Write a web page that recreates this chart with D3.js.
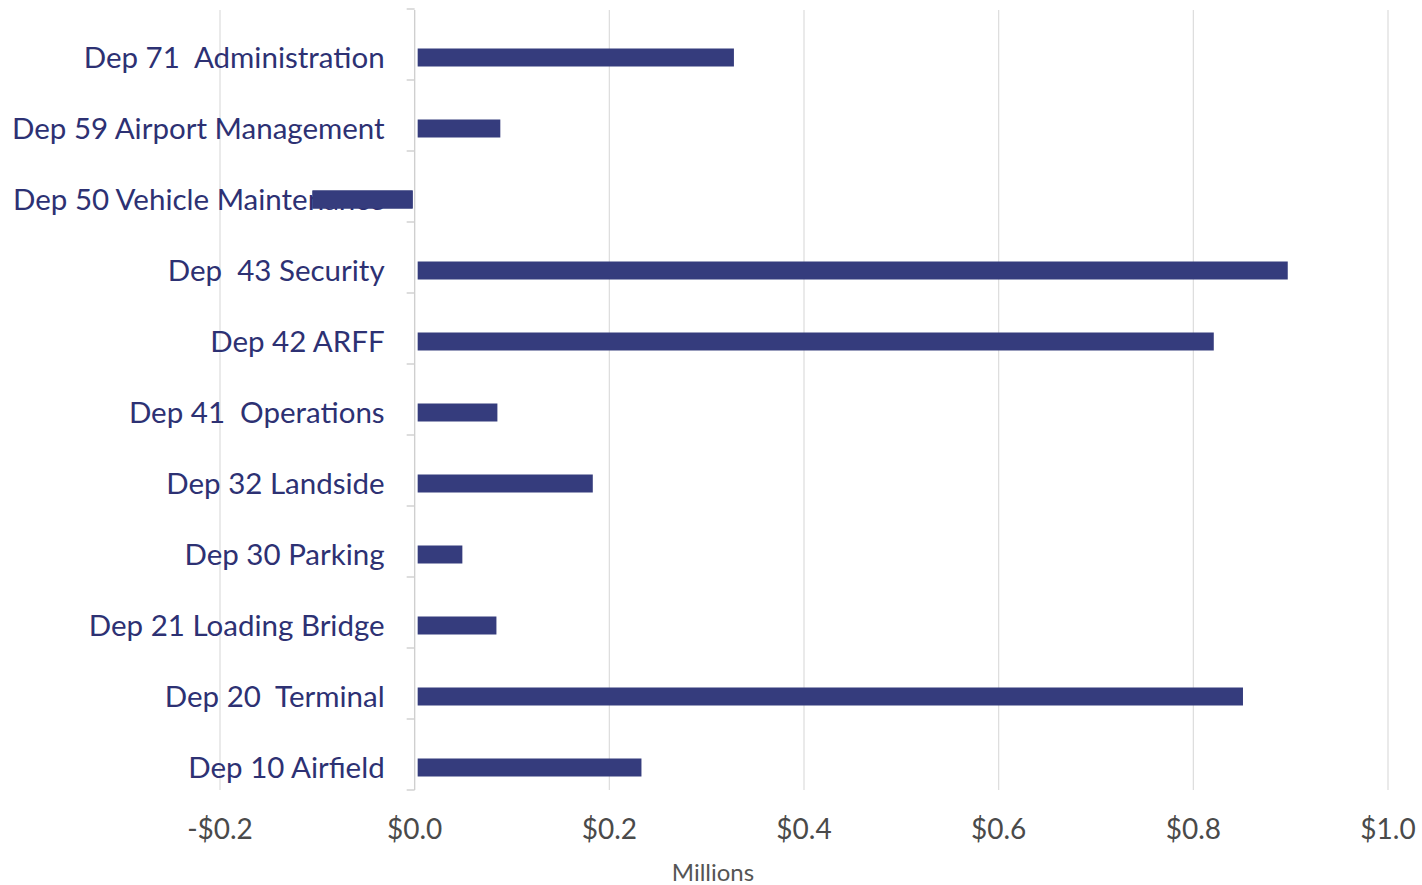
<!DOCTYPE html>
<html>
<head>
<meta charset="utf-8">
<script src="https://cdn.jsdelivr.net/npm/d3@7"></script>
<style>
  html, body { margin: 0; padding: 0; background: #ffffff; }
  svg { display: block; }
  text { white-space: pre; }
</style>
</head>
<body>
<svg id="chart" width="1422" height="885"></svg>
<script>
// Departments, top to bottom
const departments = [
  "Dep 71  Administration",
  "Dep 59 Airport Management",
  "Dep 50 Vehicle Maintenance",
  "Dep  43 Security",
  "Dep 42 ARFF",
  "Dep 41  Operations",
  "Dep 32 Landside",
  "Dep 30 Parking",
  "Dep 21 Loading Bridge",
  "Dep 20  Terminal",
  "Dep 10 Airfield"
];

// Amount per department, in millions of dollars
const amounts = [0.328, 0.088, -0.105, 0.897, 0.821, 0.085, 0.183, 0.049, 0.084, 0.851, 0.233];

// Axis ticks, in millions
const tickValues = [-0.2, 0, 0.2, 0.4, 0.6, 0.8, 1.0];

const svg = d3.select("#chart");

const x = d3.scaleLinear().domain([-0.2, 1.0]).range([220, 1388]);
const y = d3.scaleBand().domain(departments).range([9, 790]);

const barColor = "#353c7d";
const labelColor = "#2d3173";
const fontFamily = "Lato, 'Open Sans', sans-serif";
const barH = 18;
const rowShift = 13;

const rows = departments.map((d, i) => ({ name: d, value: amounts[i] }));

// vertical gridlines
svg.append("g")
  .selectAll("line")
  .data(tickValues.filter(v => v !== 0))
  .join("line")
  .attr("x1", d => x(d)).attr("x2", d => x(d))
  .attr("y1", 10).attr("y2", 790)
  .attr("stroke", "#dcdcdc")
  .attr("stroke-width", 1.2);

// bars
svg.append("g")
  .selectAll("rect")
  .data(rows)
  .join("rect")
  .attr("x", d => d.value >= 0 ? x(0) + 3 : x(d.value))
  .attr("width", d => d.value >= 0 ? x(d.value) - x(0) - 3 : x(0) - x(d.value) - 2)
  .attr("y", d => y(d.name) + y.bandwidth() / 2 + rowShift - barH / 2)
  .attr("height", barH)
  .attr("fill", barColor);

// zero axis with category ticks
const axisG = svg.append("g");
axisG.append("line")
  .attr("x1", x(0)).attr("x2", x(0))
  .attr("y1", 10).attr("y2", 790)
  .attr("stroke", "#cfcfcf")
  .attr("stroke-width", 1.4);
const bounds = departments.map(d => y(d)).concat([y.range()[1]]);
axisG.selectAll("line.tick")
  .data(bounds)
  .join("line")
  .attr("class", "tick")
  .attr("x1", x(0) - 8).attr("x2", x(0))
  .attr("y1", d => d).attr("y2", d => d)
  .attr("stroke", "#cfcfcf")
  .attr("stroke-width", 1.4);

// category labels
svg.append("g")
  .selectAll("text")
  .data(departments)
  .join("text")
  .attr("x", x(0) - 30)
  .attr("y", d => y(d) + y.bandwidth() / 2 + rowShift)
  .attr("dy", "0.35em")
  .attr("text-anchor", "end")
  .attr("font-family", fontFamily)
  .attr("font-size", 29.5)
  .attr("fill", labelColor)
  .text(d => d);

// the negative bar sits over its label
svg.append("g")
  .selectAll("rect")
  .data(rows.filter(d => d.value < 0))
  .join("rect")
  .attr("x", d => x(d.value))
  .attr("width", d => x(0) - x(d.value) - 2)
  .attr("y", d => y(d.name) + y.bandwidth() / 2 + rowShift - barH / 2)
  .attr("height", barH)
  .attr("fill", barColor);

// x axis tick labels
const fmt = v => (v < 0 ? "-" : "") + "$" + Math.abs(v).toFixed(1);
svg.append("g")
  .selectAll("text")
  .data(tickValues)
  .join("text")
  .attr("x", d => x(d))
  .attr("y", 839)
  .attr("text-anchor", "middle")
  .attr("font-family", fontFamily)
  .attr("font-size", 28)
  .attr("fill", "#4a4a4a")
  .text(fmt);

// axis unit
svg.append("text")
  .attr("x", 713)
  .attr("y", 881)
  .attr("text-anchor", "middle")
  .attr("font-family", fontFamily)
  .attr("font-size", 24)
  .attr("fill", "#555555")
  .text("Millions");
</script>
</body>
</html>
